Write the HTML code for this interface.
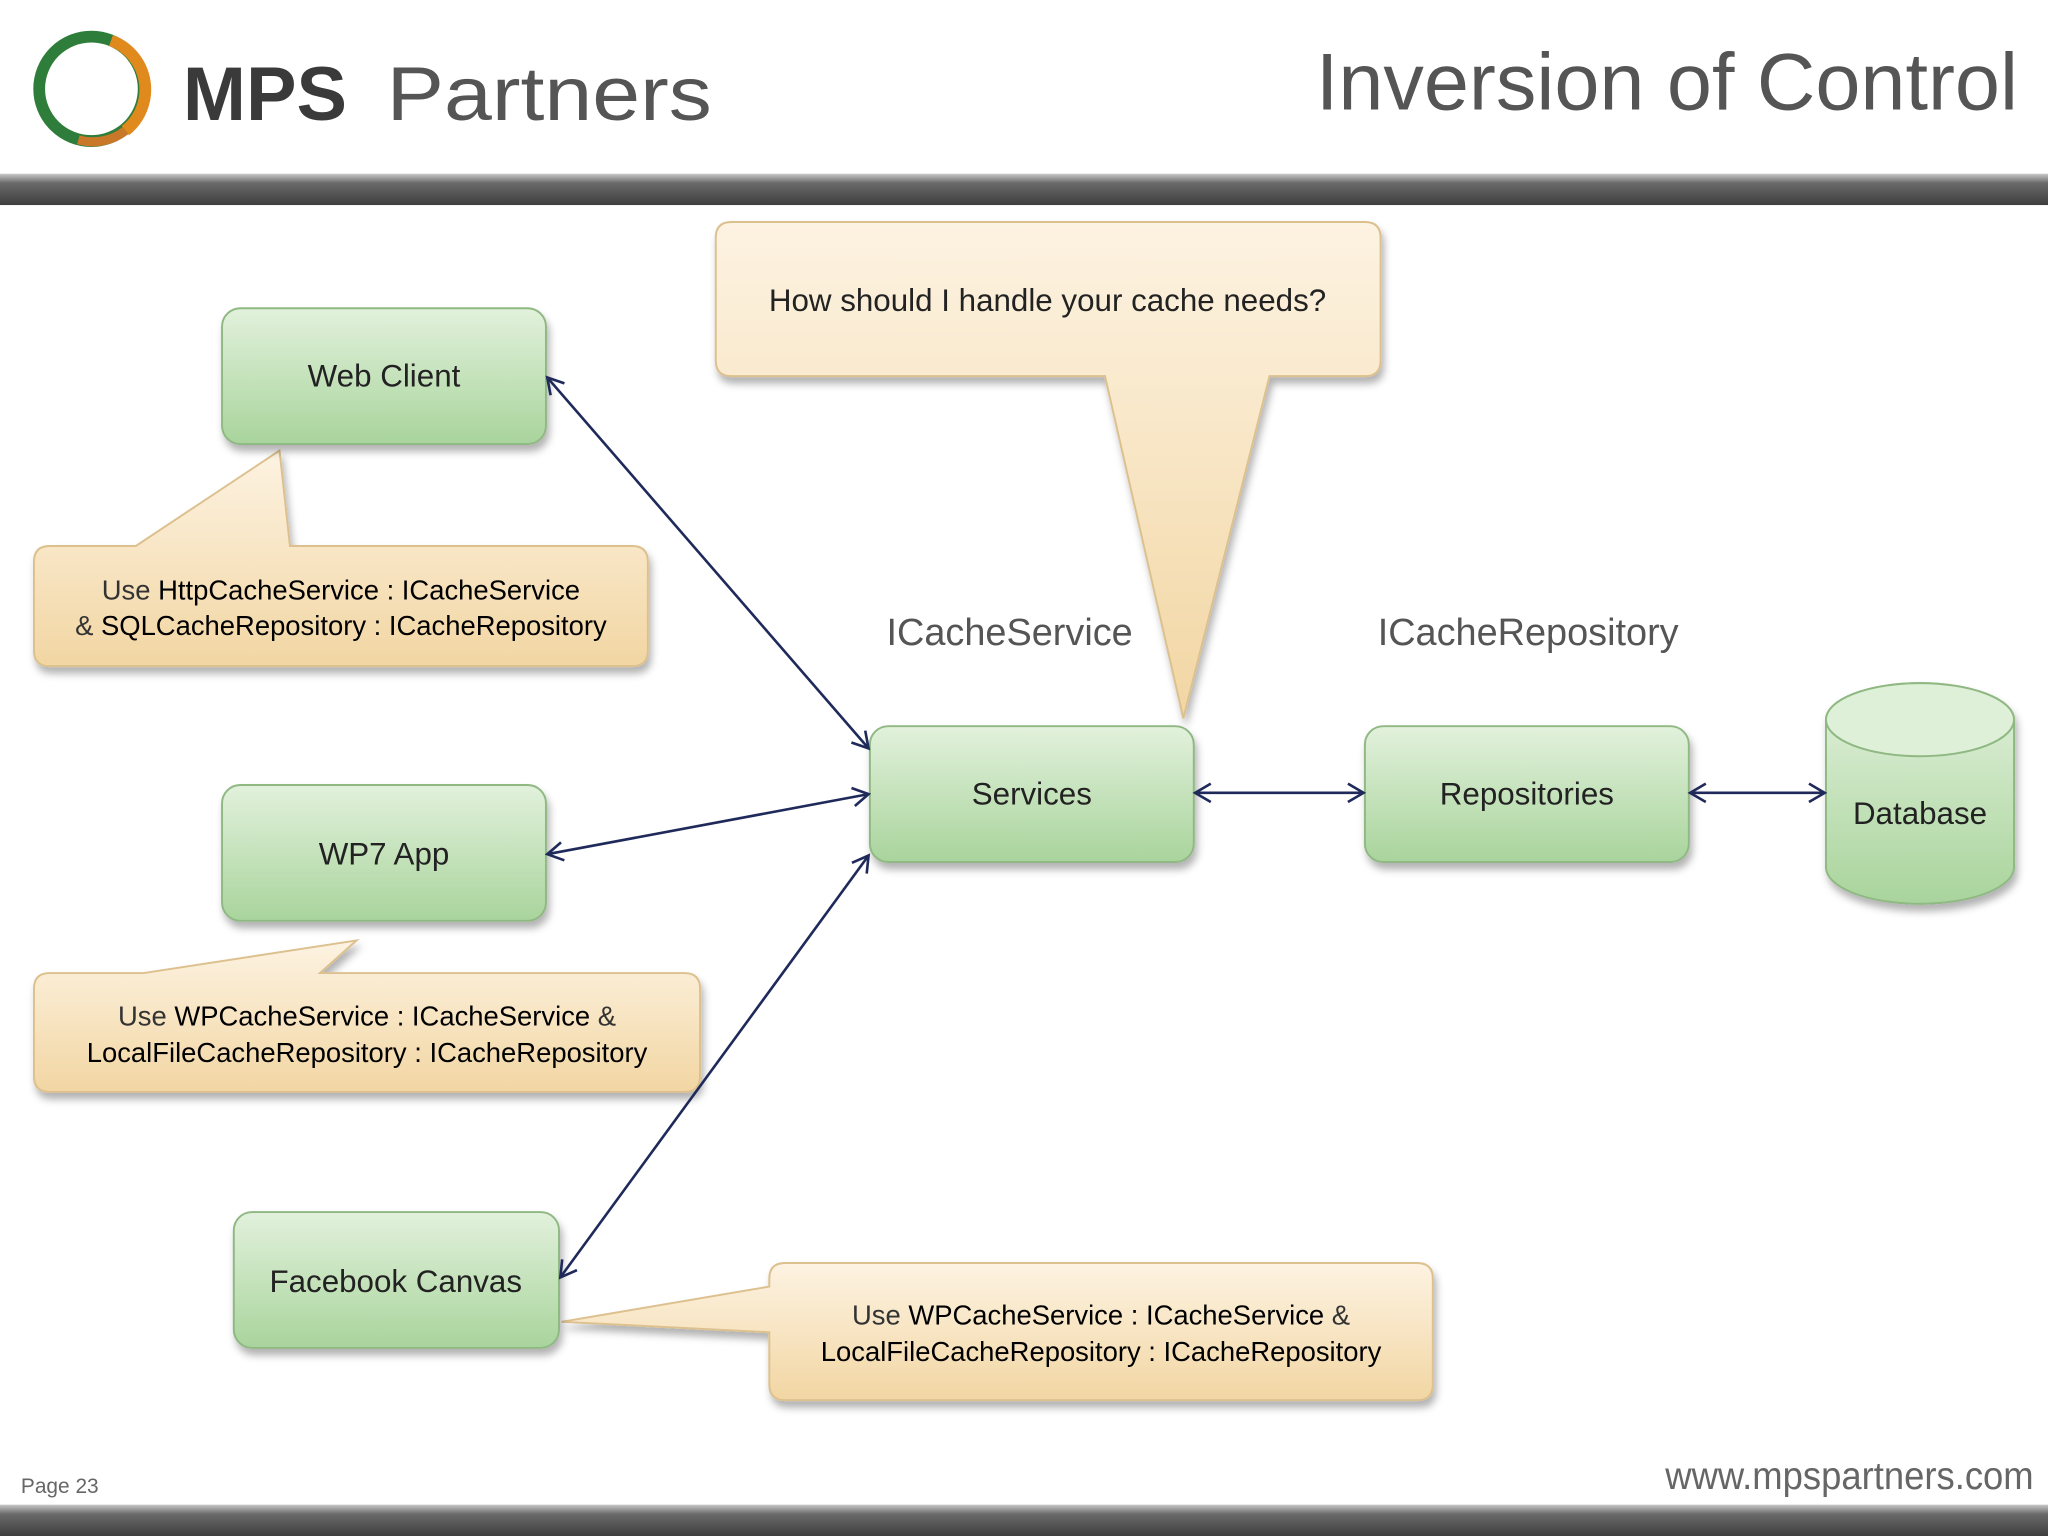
<!DOCTYPE html>
<html><head><meta charset="utf-8"><style>
html,body{margin:0;padding:0;background:#fff;}
svg{display:block;}
text{font-family:"Liberation Sans","DejaVu Sans",sans-serif;}
</style></head><body>
<svg width="2048" height="1536" viewBox="0 0 1568 1176" xmlns="http://www.w3.org/2000/svg">
<defs>
<linearGradient id="g" x1="0" y1="0" x2="0" y2="1"><stop offset="0" stop-color="#e2f1dc"/><stop offset="1" stop-color="#a9d49c"/></linearGradient>
<linearGradient id="b" x1="0" y1="0" x2="0" y2="1"><stop offset="0" stop-color="#fdf3e2"/><stop offset="1" stop-color="#f2d6a3"/></linearGradient>
<linearGradient id="bar" x1="0" y1="0" x2="0" y2="1"><stop offset="0" stop-color="#c8c8c8"/><stop offset="0.3" stop-color="#6a6a6a"/><stop offset="1" stop-color="#3e3e3e"/></linearGradient>
<filter id="sh" x="-10%" y="-10%" width="130%" height="140%"><feDropShadow dx="2" dy="5" stdDeviation="3" flood-color="#000" flood-opacity="0.3"/></filter>
<marker id="ah" markerWidth="16" markerHeight="16" refX="14" refY="8" orient="auto-start-reverse" markerUnits="userSpaceOnUse"><path d="M2,1 L14,8 L2,15" fill="none" stroke="#1f2a5a" stroke-width="2"/></marker>
</defs>
<!-- header -->
<circle cx="70" cy="68" r="40" fill="none" stroke="#2e7d3a" stroke-width="9"/>
<path d="M85,31 A40,40 0 0 1 96,100" fill="none" stroke="#e08a1e" stroke-width="9"/>
<path d="M96,100 A40,40 0 0 1 60,107" fill="none" stroke="#c9782a" stroke-width="7"/>
<text x="140" y="92" font-size="58" font-weight="bold" fill="#3a3a3a">MPS</text>
<text x="296" y="92" font-size="58" fill="#555" textLength="249" lengthAdjust="spacingAndGlyphs">Partners</text>
<text x="1545" y="84" font-size="62" fill="#555" text-anchor="end">Inversion of Control</text>
<rect x="0" y="133" width="1568" height="24" fill="url(#bar)"/>
<rect x="0" y="1152" width="1568" height="24" fill="url(#bar)"/>
<text x="16" y="1143" font-size="16" fill="#666">Page 23</text>
<text x="1557" y="1140" font-size="30" fill="#666" text-anchor="end" textLength="282" lengthAdjust="spacingAndGlyphs">www.mpspartners.com</text>

<!-- callouts -->
<path d="M560,170 H1045 Q1057,170 1057,182 V276 Q1057,288 1045,288 H972 L906,550 L846,288 H560 Q548,288 548,276 V182 Q548,170 560,170 Z" fill="url(#b)" stroke="#dcc08e" stroke-width="1.5" filter="url(#sh)"/>
<text x="802" y="238" font-size="24" fill="#222" text-anchor="middle">How should I handle your cache needs?</text>

<path d="M38,418 H104 L214,345 L222,418 H484 Q496,418 496,430 V498 Q496,510 484,510 H38 Q26,510 26,498 V430 Q26,418 38,418 Z" fill="url(#b)" stroke="#dcc08e" stroke-width="1.5" filter="url(#sh)"/>
<text x="261" y="459" font-size="21" fill="#333" text-anchor="middle">Use <tspan fill="#000">HttpCacheService : ICacheService</tspan></text>
<text x="261" y="486" font-size="21" fill="#333" text-anchor="middle">&amp; <tspan fill="#000">SQLCacheRepository : ICacheRepository</tspan></text>

<path d="M38,745 H110 L273,720 L245,745 H524 Q536,745 536,757 V824 Q536,836 524,836 H38 Q26,836 26,824 V757 Q26,745 38,745 Z" fill="url(#b)" stroke="#dcc08e" stroke-width="1.5" filter="url(#sh)"/>
<text x="281" y="785" font-size="21" fill="#333" text-anchor="middle">Use <tspan fill="#000">WPCacheService : ICacheService</tspan> &amp;</text>
<text x="281" y="813" font-size="21" fill="#000" text-anchor="middle">LocalFileCacheRepository : ICacheRepository</text>

<path d="M601,967 H1085 Q1097,967 1097,979 V1060 Q1097,1072 1085,1072 H601 Q589,1072 589,1060 V1020 L430,1012 L589,985 V979 Q589,967 601,967 Z" fill="url(#b)" stroke="#dcc08e" stroke-width="1.5" filter="url(#sh)"/>
<text x="843" y="1014" font-size="21" fill="#333" text-anchor="middle">Use <tspan fill="#000">WPCacheService : ICacheService</tspan> &amp;</text>
<text x="843" y="1042" font-size="21" fill="#000" text-anchor="middle">LocalFileCacheRepository : ICacheRepository</text>

<!-- labels -->
<text x="773" y="494" font-size="29" fill="#555" text-anchor="middle">ICacheService</text>
<text x="1170" y="494" font-size="29" fill="#555" text-anchor="middle">ICacheRepository</text>

<!-- nodes -->
<g stroke="#8fb883" stroke-width="1.5" fill="url(#g)" filter="url(#sh)">
<rect x="170" y="236" width="248" height="104" rx="14"/>
<rect x="170" y="601" width="248" height="104" rx="14"/>
<rect x="179" y="928" width="249" height="104" rx="14"/>
<rect x="666" y="556" width="248" height="104" rx="14"/>
<rect x="1045" y="556" width="248" height="104" rx="14"/>
<path d="M1398,551 V664 A72,28 0 0 0 1542,664 V551 A72,28 0 0 0 1398,551 Z"/>
</g>
<ellipse cx="1470" cy="551" rx="72" ry="28" fill="#dff0d8" stroke="#8fb883" stroke-width="1.5"/>
<g font-size="24" fill="#222" text-anchor="middle">
<text x="294" y="296">Web Client</text>
<text x="294" y="662">WP7 App</text>
<text x="303" y="989">Facebook Canvas</text>
<text x="790" y="616">Services</text>
<text x="1169" y="616">Repositories</text>
<text x="1470" y="631">Database</text>
</g>

<!-- arrows -->
<g stroke="#1f2a5a" stroke-width="2" fill="none" marker-start="url(#ah)" marker-end="url(#ah)">
<line x1="419" y1="289" x2="665" y2="573"/>
<line x1="419" y1="654" x2="665" y2="608"/>
<line x1="429" y1="978" x2="665" y2="655"/>
<line x1="915" y1="607" x2="1044" y2="607"/>
<line x1="1294" y1="607" x2="1397" y2="607"/>
</g>
</svg>
</body></html>
